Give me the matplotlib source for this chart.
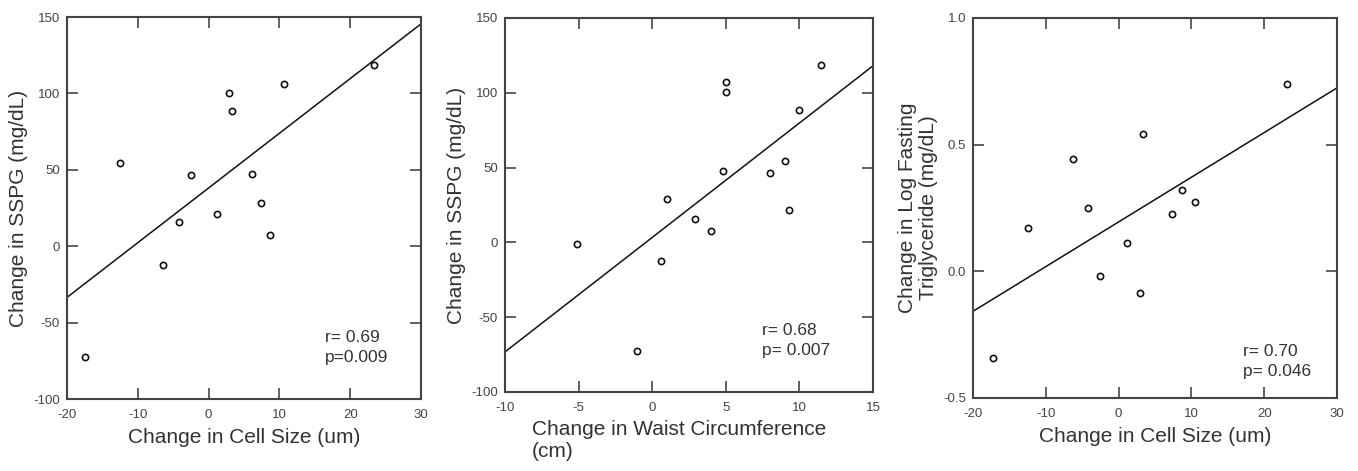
import matplotlib
matplotlib.use("Agg")
import matplotlib.pyplot as plt
import numpy as np

plt.rcParams['font.family'] = ['Liberation Sans', 'DejaVu Sans']
plt.rcParams['axes.unicode_minus'] = False

# Panel 1: Change in Cell Size vs Change in SSPG
cell_size_1 = [-17.4, -12.5, -6.4, -4.2, -2.5, 1.2, 2.9, 3.3, 6.1, 7.4, 8.7, 10.6, 23.3]
sspg_1 = [-72.7, 54.5, -12.5, 15.6, 46.4, 21.3, 100.3, 88.3, 47.3, 28.3, 7.1, 106.2, 118.6]
fit_1 = (3.58, 38.1)  # slope, intercept
stats_1 = "r= 0.69\np=0.009"

# Panel 2: Change in Waist Circumference vs Change in SSPG
waist_2 = [-5.1, -1.0, 0.6, 1.0, 2.9, 4.0, 4.8, 5.0, 5.0, 8.0, 9.0, 9.3, 10.0, 11.5]
sspg_2 = [-1.3, -72.5, -12.3, 28.8, 15.8, 7.8, 48.0, 106.9, 100.4, 46.7, 54.7, 21.7, 88.6, 118.5]
fit_2 = (7.65, 3.3)
stats_2 = "r= 0.68\np= 0.007"

# Panel 3: Change in Cell Size vs Change in Log Fasting Triglyceride
cell_size_3 = [-17.3, -12.5, -6.3, -4.2, -2.5, 1.1, 2.9, 3.3, 7.4, 8.7, 10.5, 23.1]
tg_3 = [-0.342, 0.171, 0.443, 0.250, -0.017, 0.112, -0.086, 0.541, 0.226, 0.320, 0.272, 0.739]
fit_3 = (0.01764, 0.195)
stats_3 = "r= 0.70\np= 0.046"

xticks_cell = [-20, -10, 0, 10, 20, 30]
xticks_waist = [-10, -5, 0, 5, 10, 15]
yticks_sspg = [-100, -50, 0, 50, 100, 150]
yticks_tg = [-0.5, 0.0, 0.5, 1.0]
ytick_labels_tg = ["-0.5", "0.0", "0.5", "1.0"]

W, H = 1358, 471
fig = plt.figure(figsize=(W / 100, H / 100), dpi=100)

def rect(l, r, t, b):
    return [l / W, (H - b) / H, (r - l) / W, (b - t) / H]

ax1 = fig.add_axes(rect(67, 421, 17, 399))
ax2 = fig.add_axes(rect(505, 873, 18, 392))
ax3 = fig.add_axes(rect(973, 1337, 18, 398))

tick_col = '#444444'
label_col = '#333333'

def style(ax, xt, yt, ylabels=None):
    ax.set_xticks(xt)
    ax.set_yticks(yt)
    if ylabels is not None:
        ax.set_yticklabels(ylabels)
    ax.set_xlim(xt[0], xt[-1])
    ax.set_ylim(yt[0], yt[-1])
    ax.tick_params(direction='in', top=True, right=True, length=8, width=1.3,
                   colors='#555555', labelcolor=tick_col, labelsize=9.5)
    ax.tick_params(axis='x', pad=7)
    ax.tick_params(axis='y', pad=5)
    for s in ax.spines.values():
        s.set_linewidth(1.5)
        s.set_color('#444444')

def draw(ax, x, y, fit, xt, stats, pos):
    ax.plot(x, y, linestyle='none', marker='o', markersize=4.5, markerfacecolor='white',
            markeredgecolor='#111111', markeredgewidth=1.2, zorder=3)
    xs = np.array([xt[0], xt[-1]])
    ax.plot(xs, fit[0] * xs + fit[1], color='#111111', linewidth=1.1, zorder=2)
    ax.text(pos[0], pos[1], stats, transform=ax.transAxes, fontsize=12.5,
            color=label_col, ha='left', va='top', linespacing=1.4)

style(ax1, xticks_cell, yticks_sspg)
draw(ax1, cell_size_1, sspg_1, fit_1, xticks_cell, stats_1, ((325 - 67) / 354, (399 - 330) / 382))
ax1.set_xlabel("Change in Cell Size (um)", fontsize=15, color=label_col, labelpad=5)
ax1.set_ylabel("Change in SSPG (mg/dL)", fontsize=15, color=label_col, labelpad=4)

style(ax2, xticks_waist, yticks_sspg)
draw(ax2, waist_2, sspg_2, fit_2, xticks_waist, stats_2, ((762 - 505) / 368, (392 - 323) / 374))
ax2.set_xlabel("Change in Waist Circumference\n(cm)", fontsize=15, color=label_col,
               ha='left', va='top', linespacing=1.2)
ax2.xaxis.set_label_coords((532 - 505) / 368, -(420 - 392) / 374)
ax2.set_ylabel("Change in SSPG (mg/dL)", fontsize=15, color=label_col, labelpad=4)

style(ax3, xticks_cell, yticks_tg, ytick_labels_tg)
draw(ax3, cell_size_3, tg_3, fit_3, xticks_cell, stats_3, ((1243 - 973) / 364, (398 - 344) / 380))
ax3.set_xlabel("Change in Cell Size (um)", fontsize=15, color=label_col, labelpad=5)
ax3.set_ylabel("Change in Log Fasting\nTriglyceride (mg/dL)", fontsize=15, color=label_col,
               labelpad=4, linespacing=1.1)

fig.savefig("out.png", dpi=100, facecolor='white')
